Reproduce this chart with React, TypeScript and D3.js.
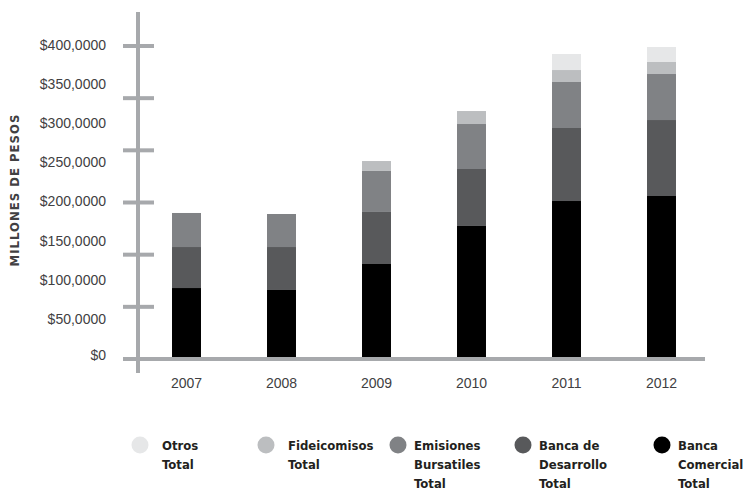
import * as d3 from "d3"

// years on the x axis
const years = ["2007", "2008", "2009", "2010", "2011", "2012"]

// stacked series, bottom to top (values in pesos)
const bancaComercial = [90700, 88200, 121400, 170000, 201900, 208300]
const bancaDesarrollo = [52400, 54900, 66500, 72800, 93300, 97100]
const emisiones = [43500, 42200, 52400, 57500, 58800, 58800]
const fideicomisos = [0, 0, 12700, 16600, 15300, 15400]
const otros = [0, 0, 0, 0, 20500, 19100]

// y axis labels and the separate tick marks on the axis
const labelTicks = [0, 50000, 100000, 150000, 200000, 250000, 300000, 350000, 400000]
const markTicks = [0, 66667, 133333, 200000, 266667, 333333, 400000]

const seriesKeys = ["comercial", "desarrollo", "emisiones", "fideicomisos", "otros"]
const seriesColors = ["#000000", "#58595b", "#808285", "#bcbec0", "#e6e7e8"]

// legend, left to right
const legendKeys = ["otros", "fideicomisos", "emisiones", "desarrollo", "comercial"]
const legendLabels = [
  ["Otros", "Total"],
  ["Fideicomisos", "Total"],
  ["Emisiones", "Bursatiles", "Total"],
  ["Banca de", "Desarrollo", "Total"],
  ["Banca", "Comercial", "Total"],
]

const width = 747
const height = 491
const axisColor = "#a7a9ac"
const textColor = "#414042"
const condensed = "'DejaVu Sans Condensed', 'Liberation Sans Narrow', sans-serif"

export default function App() {
  const table = years.map((year, i) => ({
    year,
    comercial: bancaComercial[i],
    desarrollo: bancaDesarrollo[i],
    emisiones: emisiones[i],
    fideicomisos: fideicomisos[i],
    otros: otros[i],
  }))

  const stack = d3.stack<any>().keys(seriesKeys)
  const layers = stack(table)

  const x = d3.scaleBand().domain(years).range([139, 709]).paddingInner(0.695).paddingOuter(0.3475)
  const y = d3.scaleLinear().domain([0, 400000]).range([359, 46])
  const color = d3.scaleOrdinal<string, string>().domain(seriesKeys).range(seriesColors)

  const fmt = (v: number) => (v === 0 ? "$0" : `$${v / 1000},0000`)

  // legend item positions (circle centre)
  const legendX = [140, 266, 398, 523, 662]

  return (
    <svg width={width} height={height} style={{ position: "absolute", left: 0, top: 0 }}>
      <rect width={width} height={height} fill="#ffffff" />

      {/* bars */}
      {layers.map((layer) => (
        <g key={layer.key} fill={color(layer.key)}>
          {layer.map((d, i) =>
            d[1] - d[0] > 0 ? (
              <rect
                key={i}
                x={x(d.data.year)}
                width={x.bandwidth()}
                y={y(d[1])}
                height={y(d[0]) - y(d[1])}
              />
            ) : null
          )}
        </g>
      ))}

      {/* axes */}
      <line x1={138} x2={138} y1={12} y2={373} stroke={axisColor} strokeWidth={4} />
      <line x1={123} x2={705} y1={y(0)} y2={y(0)} stroke={axisColor} strokeWidth={4} />
      {markTicks.map((t) => (
        <line key={t} x1={123} x2={154} y1={y(t)} y2={y(t)} stroke={axisColor} strokeWidth={4} />
      ))}

      {/* y labels */}
      {labelTicks.map((t) => (
        <text
          key={t}
          x={106}
          y={t === 0 ? y(t) - 4 : y(t) - 1}
          dy="0.35em"
          textAnchor="end"
          fontFamily="'Liberation Sans', Arial, sans-serif"
          fontSize={14}
          fill={textColor}
        >
          {fmt(t)}
        </text>
      ))}

      {/* x labels */}
      {years.map((yr) => (
        <text
          key={yr}
          x={(x(yr) as number) + x.bandwidth() / 2}
          y={383}
          dy="0.35em"
          textAnchor="middle"
          fontFamily="'Liberation Sans', Arial, sans-serif"
          fontSize={14}
          fill={textColor}
        >
          {yr}
        </text>
      ))}

      {/* y title */}
      <text
        transform={`translate(19, 190) rotate(-90)`}
        textAnchor="middle"
        fontFamily={condensed}
        fontWeight="bold"
        fontSize={13}
        letterSpacing={1}
        fill={textColor}
      >
        MILLONES DE PESOS
      </text>

      {/* legend */}
      {legendKeys.map((k, i) => (
        <g key={k} transform={`translate(${legendX[i]}, 445)`}>
          <circle r={8.5} fill={color(k)} />
          {legendLabels[i].map((line, j) => (
            <text
              key={j}
              x={i >= 2 ? 16 : 22}
              y={j * 19}
              dy="0.35em"
              fontFamily={condensed}
              fontWeight="bold"
              fontSize={13}
              fill="#231f20"
            >
              {line}
            </text>
          ))}
        </g>
      ))}
    </svg>
  )
}
